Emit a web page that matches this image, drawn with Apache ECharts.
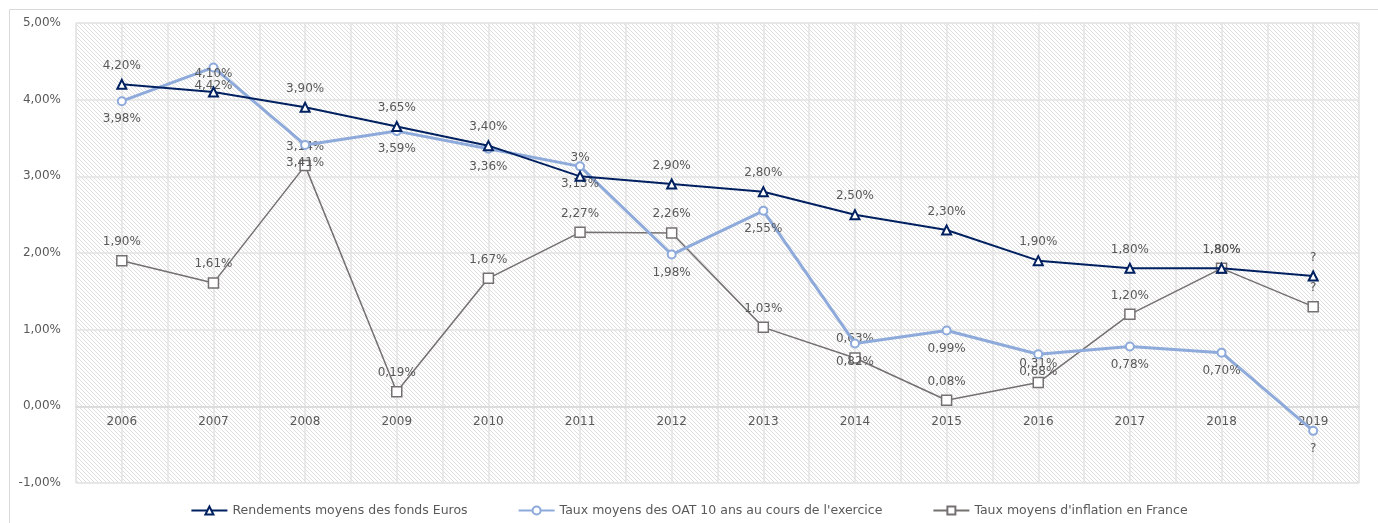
<!DOCTYPE html>
<html>
<head>
<meta charset="utf-8">
<script src="https://cdn.jsdelivr.net/npm/echarts@6/dist/echarts.min.js"></script>
<style>
  html, body { margin: 0; padding: 0; background: #fff; }
  #chart { width: 1378px; height: 523px; }
</style>
</head>
<body>
<div id="chart"></div>
<script>
// données
const years = ['2006', '2007', '2008', '2009', '2010', '2011', '2012', '2013', '2014', '2015', '2016', '2017', '2018', '2019'];
const fondsEuros = [4.20, 4.10, 3.90, 3.65, 3.40, 3.00, 2.90, 2.80, 2.50, 2.30, 1.90, 1.80, 1.80, 1.70];
const fondsEurosLabels = ['4,20%', '4,10%', '3,90%', '3,65%', '3,40%', '3%', '2,90%', '2,80%', '2,50%', '2,30%', '1,90%', '1,80%', '1,80%', '?'];
const oat10 = [3.98, 4.42, 3.41, 3.59, 3.36, 3.13, 1.98, 2.55, 0.82, 0.99, 0.68, 0.78, 0.70, -0.32];
const oat10Labels = ['3,98%', '4,42%', '3,41%', '3,59%', '3,36%', '3,13%', '1,98%', '2,55%', '0,82%', '0,99%', '0,68%', '0,78%', '0,70%', '?'];
const inflation = [1.90, 1.61, 3.14, 0.19, 1.67, 2.27, 2.26, 1.03, 0.63, 0.08, 0.31, 1.20, 1.80, 1.30];
const inflationLabels = ['1,90%', '1,61%', '3,14%', '0,19%', '1,67%', '2,27%', '2,26%', '1,03%', '0,63%', '0,08%', '0,31%', '1,20%', '1,80%', '?'];

const yMin = -1, yMax = 5;
const gridTop = 23, gridBottom = 40;

// motif hachuré du fond
const tile = document.createElement('canvas');
tile.width = 4;
tile.height = 4;
const ctx = tile.getContext('2d');
ctx.fillStyle = '#ffffff';
ctx.fillRect(0, 0, 4, 4);
ctx.strokeStyle = '#dedede';
ctx.lineWidth = 1;
ctx.beginPath();
ctx.moveTo(-1, -1); ctx.lineTo(5, 5);
ctx.moveTo(-1, 3); ctx.lineTo(1, 5);
ctx.moveTo(3, -1); ctx.lineTo(5, 1);
ctx.stroke();

const txt = '#595959';
const font = 'DejaVu Sans';

const chart = echarts.init(document.getElementById('chart'));
// l'axe des années est posé sur la ligne 0 (onZero ne marche pas ici)
const plotH = 523 - gridTop - gridBottom;
const zeroOffset = -plotH * (0 - yMin) / (yMax - yMin);

const option = {
  backgroundColor: '#fff',
  textStyle: { fontFamily: font },
  animation: false,
  graphic: [{
    type: 'rect', left: 7, top: 7, silent: true,
    shape: { width: 1400, height: 540 },
    style: { fill: 'none', stroke: '#d9d9d9', lineWidth: 1 }
  }],
  grid: {
    left: 76, right: 19, top: gridTop, bottom: gridBottom,
    show: true,
    backgroundColor: { image: tile, repeat: 'repeat' },
    borderColor: '#e6e6e6',
    borderWidth: 1
  },
  legend: {
    bottom: 1,
    left: 'center',
    itemGap: 50,
    itemWidth: 36,
    itemHeight: 10,
    textStyle: { color: txt, fontSize: 12.5, fontFamily: font }
  },
  xAxis: [{
    type: 'category',
    data: years,
    boundaryGap: true,
    offset: zeroOffset,
    axisLine: { onZero: false, lineStyle: { color: '#d9d9d9', width: 1.5 } },
    axisTick: { show: false },
    splitLine: { show: false },
    axisLabel: { color: txt, fontSize: 12, margin: 10, fontFamily: font }
  }, {
    type: 'value',
    min: 0, max: 14, interval: 0.5,
    show: true,
    position: 'top',
    axisLine: { show: false, onZero: false },
    axisTick: { show: false },
    axisLabel: { show: false },
    splitLine: { show: true, lineStyle: { color: '#e3e3e3', width: 1.5 } }
  }],
  yAxis: {
    type: 'value',
    min: yMin, max: yMax, interval: 1,
    axisLine: { show: false, onZero: false },
    axisTick: { show: false },
    splitLine: { lineStyle: { color: '#e3e3e3', width: 1.5 } },
    axisLabel: {
      color: txt, fontSize: 12, margin: 15, fontFamily: font,
      formatter: v => v.toFixed(2).replace('.', ',') + '%'
    }
  },
  series: [{
    name: 'Rendements moyens des fonds Euros',
    type: 'line',
    data: fondsEuros,
    symbol: 'triangle',
    symbolSize: 9,
    lineStyle: { color: '#002060', width: 2 },
    itemStyle: { color: '#ffffff', borderColor: '#002060', borderWidth: 2 },
    label: {
      show: true, position: 'top', distance: 7,
      color: txt, fontSize: 12, fontFamily: font,
      formatter: p => fondsEurosLabels[p.dataIndex]
    },
    z: 4
  }, {
    name: "Taux moyens des OAT 10 ans au cours de l'exercice",
    type: 'line',
    data: oat10,
    symbol: 'circle',
    symbolSize: 8,
    lineStyle: { color: '#8eaadb', width: 3 },
    itemStyle: { color: '#ffffff', borderColor: '#8eaadb', borderWidth: 2 },
    label: {
      show: true, position: 'bottom', distance: 7,
      color: txt, fontSize: 12, fontFamily: font,
      formatter: p => oat10Labels[p.dataIndex]
    },
    z: 3
  }, {
    name: "Taux moyens d'inflation en France",
    type: 'line',
    data: inflation,
    symbol: 'rect',
    symbolSize: 10,
    lineStyle: { color: '#767171', width: 1.5 },
    itemStyle: { color: '#ffffff', borderColor: '#767171', borderWidth: 1.5 },
    label: {
      show: true, position: 'top', distance: 7,
      color: txt, fontSize: 12, fontFamily: font,
      formatter: p => inflationLabels[p.dataIndex]
    },
    z: 2
  }]
};

chart.setOption(option);
</script>
</body>
</html>
